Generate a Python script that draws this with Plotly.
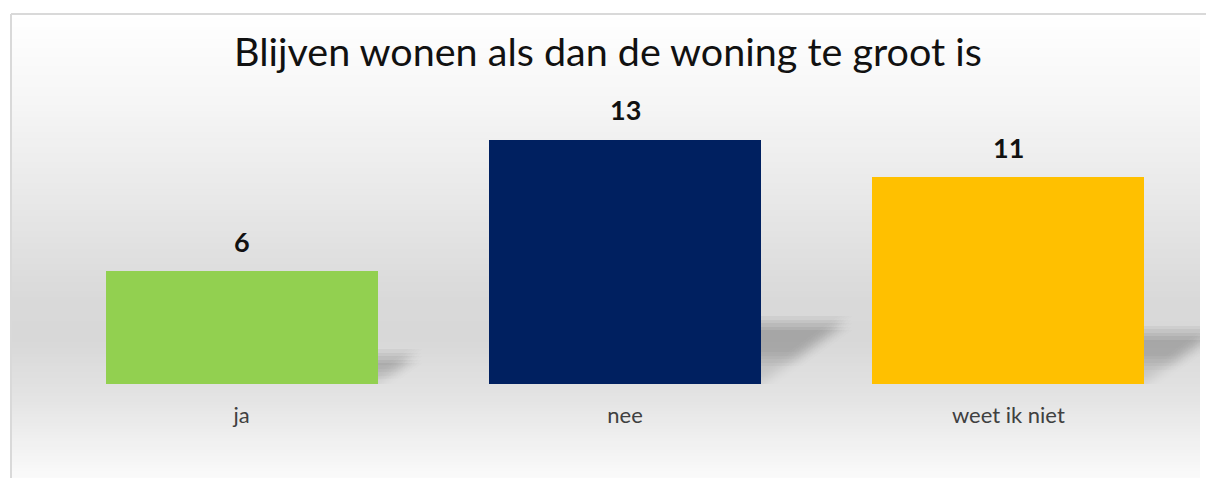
import plotly.graph_objects as go

# Survey answers
categories = ["ja", "nee", "weet ik niet"]
counts = [6, 13, 11]
bar_colors = ["#92D050", "#002060", "#FFC000"]
title_text = "Blijven wonen als dan de woning te groot is"

W, H = 1206, 478
M_L, M_R, M_T, M_B = 50, 6, 84, 94
X_RANGE = (-0.5, len(categories) - 0.5)
Y_RANGE = (0, 15.96)
BAR_WIDTH = 0.71
FONT = "Lato"

plot_w = W - M_L - M_R
plot_h = H - M_T - M_B
px_x = (X_RANGE[1] - X_RANGE[0]) / plot_w   # data units per pixel (x)
px_y = (Y_RANGE[1] - Y_RANGE[0]) / plot_h   # data units per pixel (y)

xs = list(range(len(categories)))

fig = go.Figure()
fig.add_trace(go.Bar(
    x=xs, y=counts, width=BAR_WIDTH,
    marker=dict(color=bar_colors, line=dict(width=0)),
    hoverinfo="skip", showlegend=False,
))

shapes = []

# Chart-area background: vertical grey gradient built from thin strips
def px_to_paper_x(px):
    return (px - M_L) / plot_w

def px_to_paper_y(py):
    return (H - M_B - py) / plot_h

stops = [(14, 255), (100, 246), (200, 232), (300, 217), (340, 216),
         (400, 228), (440, 240), (478, 250)]

def shade(py):
    for (y0, c0), (y1, c1) in zip(stops, stops[1:]):
        if y0 <= py <= y1:
            t = (py - y0) / (y1 - y0)
            return round(c0 + (c1 - c0) * t)
    return stops[-1][1]

top_px, step = 15, 3
py = top_px
while py < H:
    c = shade(py + step / 2)
    shapes.append(dict(
        type="rect", xref="paper", yref="paper", layer="below",
        x0=px_to_paper_x(12), x1=px_to_paper_x(1200),
        y0=px_to_paper_y(min(py + step + 0.6, H)), y1=px_to_paper_y(py),
        fillcolor=f"rgb({c},{c},{c})", line=dict(width=0),
    ))
    py += step

# Chart border (left and top edges)
shapes.append(dict(type="line", xref="paper", yref="paper", layer="below",
                   x0=px_to_paper_x(11), x1=px_to_paper_x(11),
                   y0=px_to_paper_y(H), y1=px_to_paper_y(14),
                   line=dict(color="#d9d9d9", width=2)))
shapes.append(dict(type="line", xref="paper", yref="paper", layer="below",
                   x0=px_to_paper_x(11), x1=px_to_paper_x(W),
                   y0=px_to_paper_y(14), y1=px_to_paper_y(14),
                   line=dict(color="#d9d9d9", width=2)))

# Soft perspective shadow cast to the right of each bar.
# Stacked faint copies: shifted on a small grid for blur, and one extra set
# cut part-way up so the shadow is darker along its upper edge.
SHADOW_RISE = 0.25      # shadow height as a fraction of the bar height
SHADOW_RUN = 6.6        # horizontal reach in pixels per unit of value
BLUR_OFFSETS = (-7, -3.5, 0, 3.5, 7)
FADE_LEVELS = (0.0, 0.4)
for xi, v in zip(xs, counts):
    x1 = xi + BAR_WIDTH / 2
    h = SHADOW_RISE * v
    dx = SHADOW_RUN * v * px_x
    for t in FADE_LEVELS:
        for sx in BLUR_OFFSETS:
            for sy in BLUR_OFFSETS:
                ox, oy = sx * px_x, sy * px_y
                pts = [(x1 - 0.02 + ox, t * h + oy), (x1 - 0.02 + ox, h + oy),
                       (x1 + dx + ox, h + oy), (x1 + dx * t + ox, t * h + oy)]
                path = "M " + " L ".join(f"{a},{b}" for a, b in pts) + " Z"
                shapes.append(dict(type="path", xref="x", yref="y",
                                   layer="below", path=path,
                                   fillcolor="rgba(0,0,0,0.0055)",
                                   line=dict(width=0)))

# Value labels above the bars
annotations = [
    dict(x=xi, y=v, xref="x", yref="y", text=f"<b>{v}</b>", showarrow=False,
         yanchor="middle", yshift=30,
         font=dict(family=FONT, size=27, color="#111111"))
    for xi, v in zip(xs, counts)
]

fig.update_layout(
    width=W, height=H,
    margin=dict(l=M_L, r=M_R, t=M_T, b=M_B),
    paper_bgcolor="white", plot_bgcolor="rgba(0,0,0,0)",
    title=dict(text=title_text, x=608 / W, xanchor="center",
               y=1 - 52 / H, yanchor="middle", yref="container",
               font=dict(family=FONT, size=39.5, color="#111111")),
    xaxis=dict(range=list(X_RANGE), tickvals=xs, ticktext=categories,
               showgrid=False, zeroline=False, showline=False, ticks="",
               ticklabelstandoff=16,
               tickfont=dict(family=FONT, size=22, color="#404040"),
               fixedrange=True),
    yaxis=dict(range=list(Y_RANGE), visible=False, fixedrange=True),
    shapes=shapes, annotations=annotations,
    bargap=0,
)

fig.write_html("out.html")
